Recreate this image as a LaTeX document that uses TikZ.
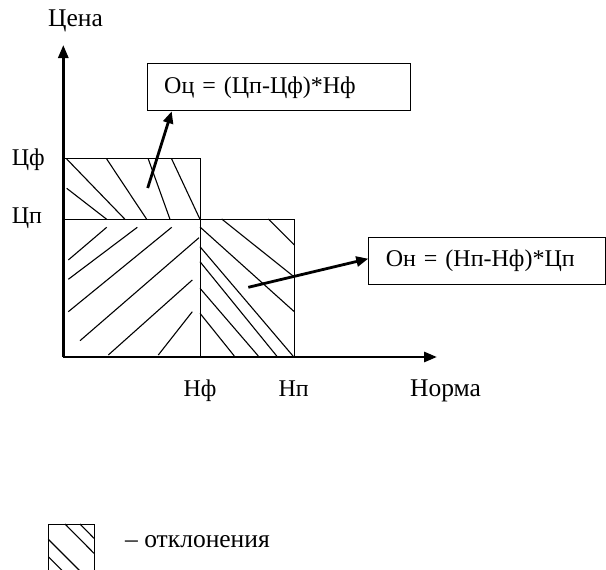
\documentclass[tikz,border=0pt]{standalone}
\usepackage{fontspec}
\setmainfont{Liberation Serif}
\usetikzlibrary{arrows.meta,positioning,calc}

\begin{document}
\begin{tikzpicture}[
    x=1pt, y=-1pt,
    every node/.style={font=\fontsize{24}{28}\selectfont, inner sep=0pt},
    axis/.style={line width=2.8pt, -{Triangle[length=13pt,width=10pt]}},
    callout/.style={line width=2.8pt, -{Triangle[length=12pt,width=10pt]}},
    formula/.style={
        rectangle, draw, line width=1pt, anchor=north west,
        minimum height=47pt, inner xsep=17pt, text width=#1, align=left
    },
    region/.style={draw, line width=0.9pt},
    hatch/.style={line width=1.1pt},
    label/.style={anchor=base west},
    word/.style={font=\fontsize{25.5}{30}\selectfont}
]
\useasboundingbox (0,0) rectangle (606,570);
\clip (0,0) rectangle (606,570);

% оси
\coordinate (origin) at (63.3,357);
\coordinate (ytop) at (63.3,45);
\coordinate (xend) at (437,357);
\draw[axis] (origin) -- (ytop);
\draw[axis] (origin) -- (xend);

\node[anchor=base, word] (price) at (75.5,26.7) {Цена};
\node[label] (pf) at (11.7,165.5) {Цф};
\node[label] (pp) at (11.7,223.3) {Цп};
\node[label] (nf) at (183.3,396.7) {Нф};
\node[label] (np) at (278.3,396.7) {Нп};
\node[label, word] (norm) at (410,396.7) {Норма};

% прямоугольники
\draw[region] (63.3,158.3) rectangle (200,219);
\draw[region] (63.3,219) rectangle (200,357);
\draw[region] (200,219) rectangle (294.3,357);

% штриховка
\foreach \a/\b in {{66.7,159}/{125,219.3}, {66.7,188.3}/{106.7,219.3},
    {106.7,159}/{146.7,219.3}, {148.3,159}/{170,219.3}, {171.7,159}/{200,219.3},
    {68.3,260}/{106.7,227.3}, {68.3,279.3}/{137.3,227.3},
    {68.3,311.7}/{171.7,227.3}, {80,340.7}/{199,237.7},
    {108.3,355}/{192.3,280}, {158.3,355}/{192.3,311.7},
    {221.7,219}/{294.3,277}, {268.3,219}/{294.3,245},
    {200,227}/{294.3,311.7}, {200,246.7}/{293,356},
    {200,261.7}/{276.7,356}, {200,288.3}/{258.3,356},
    {200,313.3}/{234.3,356}}
    \draw[hatch] (\a) -- (\b);

% формулы
\node[formula=229.3pt] (oc) at (146.7,63.3) {Оц = (Цп-Цф)*Нф};
\node[formula=202.8pt] (on) at (368.3,236.7) {Он = (Нп-Нф)*Цп};

\coordinate (ptop) at (147.7,188);
\coordinate (pright) at (248.3,287.3);
\draw[callout] (ptop) -- ($(oc.south west)+(25,0)$);
\draw[callout] (pright) -- ($(on.west)+(0,-2)$);

% легенда
\draw[region] (48.3,524) rectangle (94,590);
\foreach \a/\b in {{65,524}/{94,553.3}, {80,524}/{94,538.3},
    {48.3,539.3}/{94,585}, {48.3,556.7}/{70,578.4}}
    \draw[hatch] (\a) -- (\b);
\node[label, word] (legend) at (125,547.3) {– отклонения};

\end{tikzpicture}
\end{document}
